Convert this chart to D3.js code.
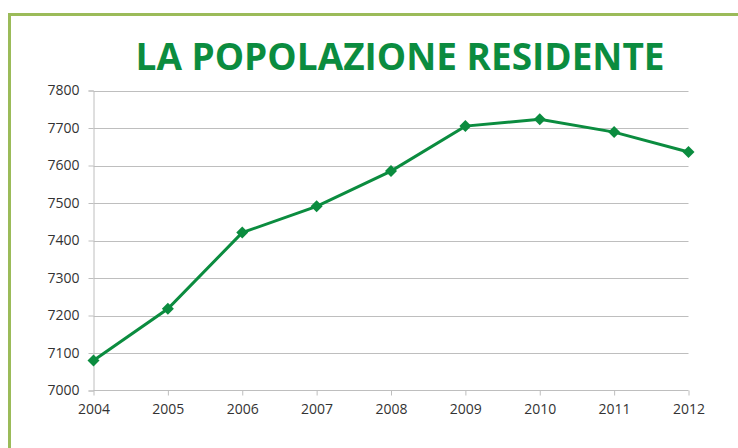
<!DOCTYPE html>
<html>
<head>
<meta charset="utf-8">
<script src="https://cdn.jsdelivr.net/npm/d3@7"></script>
<style>
  body { margin: 0; background: #fff; }
  text { font-family: "Open Sans", "Liberation Sans", sans-serif; }
</style>
</head>
<body>
<div id="chart"></div>
<script>
// dati
var years = [2004, 2005, 2006, 2007, 2008, 2009, 2010, 2011, 2012];
var residents = [7080, 7218, 7421, 7491, 7585, 7705, 7723, 7689, 7636];
var yTicks = [7000, 7100, 7200, 7300, 7400, 7500, 7600, 7700, 7800];
var title = "LA POPOLAZIONE RESIDENTE";

var width = 738, height = 448,
    plot = {left: 93.5, right: 688.5, top: 90.5, bottom: 390.5},
    green = "#0b8c3f";

var svg = d3.select("#chart").append("svg")
    .attr("width", width)
    .attr("height", height);

// cornice verde
svg.append("path")
    .attr("d", "M9.5," + height + "V14.5H" + width)
    .attr("fill", "none")
    .attr("stroke", "#9bbb59")
    .attr("stroke-width", 3);

svg.append("text")
    .attr("x", 400)
    .attr("y", 70)
    .attr("text-anchor", "middle")
    .attr("textLength", 529)
    .attr("lengthAdjust", "spacingAndGlyphs")
    .style("font-size", "38px")
    .style("font-weight", "bold")
    .attr("fill", green)
    .text(title);

var x = d3.scalePoint().domain(years).range([plot.left, plot.right]);
var y = d3.scaleLinear().domain([7000, 7800]).range([plot.bottom, plot.top]);

// griglia orizzontale
svg.append("g").selectAll("line")
    .data(yTicks.slice(1))
    .enter().append("line")
    .attr("x1", plot.left)
    .attr("x2", plot.right)
    .attr("y1", function(d) { return Math.round(y(d)) + 0.5; })
    .attr("y2", function(d) { return Math.round(y(d)) + 0.5; })
    .attr("stroke", "#bebebe");

var yAxis = svg.append("g")
    .attr("transform", "translate(" + plot.left + ",0)")
    .call(d3.axisLeft(y).tickValues(yTicks).tickSize(5).tickPadding(9).tickFormat(d3.format("d")));

var xAxis = svg.append("g")
    .attr("transform", "translate(0," + plot.bottom + ")")
    .call(d3.axisBottom(x).tickSize(5).tickPadding(9));

[yAxis, xAxis].forEach(function(a) {
  a.select(".domain").attr("stroke", "#bebebe");
  a.selectAll(".tick line").attr("stroke", "#bebebe");
  a.selectAll(".tick text")
      .attr("fill", "#333")
      .style("font-size", "14px")
      .style("font-family", "'Open Sans', sans-serif");
});
xAxis.select(".domain").attr("d", "M" + plot.left + ",0H" + plot.right);

var line = d3.line()
    .x(function(d, i) { return x(years[i]); })
    .y(function(d) { return y(d); });

svg.append("path")
    .datum(residents)
    .attr("d", line)
    .attr("fill", "none")
    .attr("stroke", green)
    .attr("stroke-width", 3);

// marcatori a rombo (quadrato ruotato)
svg.append("g").selectAll("path")
    .data(residents)
    .enter().append("path")
    .attr("d", d3.symbol().type(d3.symbolSquare).size(72))
    .attr("transform", function(d, i) { return "translate(" + x(years[i]) + "," + y(d) + ") rotate(45)"; })
    .attr("fill", green);
</script>
</body>
</html>
